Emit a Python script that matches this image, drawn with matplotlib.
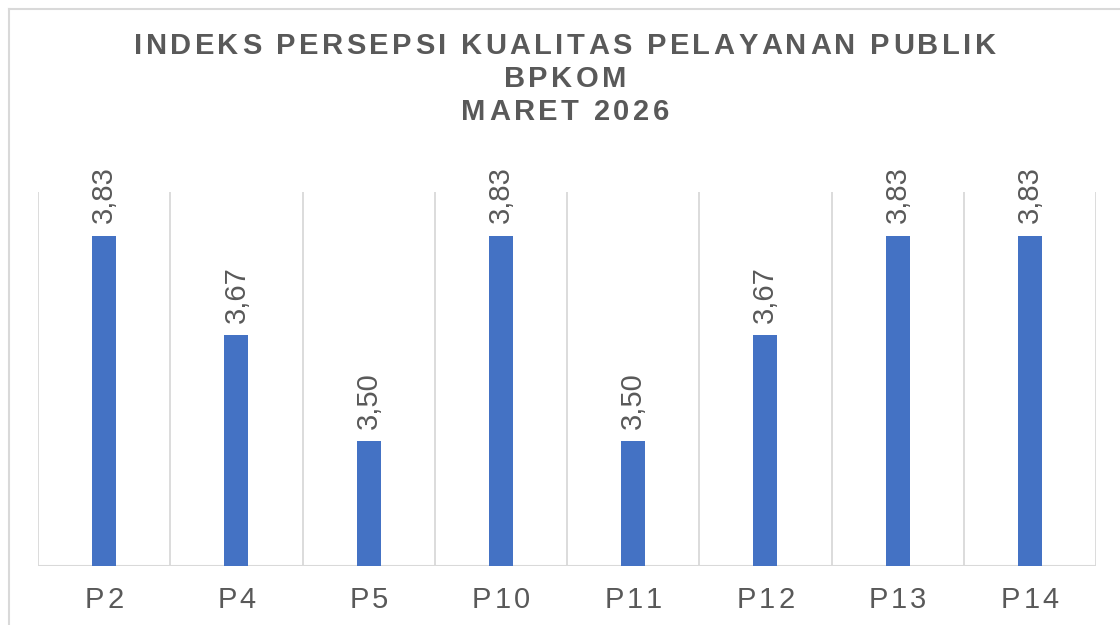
import matplotlib
matplotlib.use("Agg")
import matplotlib.pyplot as plt
from matplotlib.lines import Line2D
from matplotlib.font_manager import FontProperties

# ---------------------------------------------------------------------------
# Data
# ---------------------------------------------------------------------------
categories = ["P2", "P4", "P5", "P10", "P11", "P12", "P13", "P14"]
values = [3.83, 3.67, 3.50, 3.83, 3.50, 3.67, 3.83, 3.83]
title_lines = ["INDEKS PERSEPSI KUALITAS PELAYANAN PUBLIK", "BPKOM", "MARET 2026"]

BAR_COLOUR = "#4472C4"
TEXT_COLOUR = "#595959"
GRID_COLOUR = "#D9D9D9"
FONT = "Liberation Sans"

W, H, DPI = 1120, 625, 100
fig = plt.figure(figsize=(W / DPI, H / DPI), dpi=DPI)
ax = fig.add_axes([38 / W, 1 - 566 / H, (1096 - 38) / W, (566 - 192) / H])

x = list(range(len(categories)))
ax.bar(x, values, width=0.18, color=BAR_COLOUR, zorder=3)
ax.set_xlim(-0.5, len(categories) - 0.5)
ax.set_ylim(3.3, 3.9)

# category separators + baseline
for i in range(len(categories) + 1):
    ax.axvline(i - 0.5, color=GRID_COLOUR, lw=1.3, zorder=1)
ax.axhline(3.3, color=GRID_COLOUR, lw=1.5, zorder=2)
for s in ax.spines.values():
    s.set_visible(False)
ax.set_xticks([])
ax.set_yticks([])

# value labels
for xi, v in zip(x, values):
    ax.annotate(f"{v:.2f}".replace(".", ","), (xi, v), xytext=(0, 9),
                textcoords="offset points", rotation=90, ha="center", va="bottom",
                fontsize=21, color=TEXT_COLOUR, family=FONT)

# chart border (left + top)
fig.add_artist(Line2D([8.5 / W, 8.5 / W], [0, 1 - 8.5 / H], transform=fig.transFigure,
                      color=GRID_COLOUR, lw=1.5))
fig.add_artist(Line2D([8.5 / W, 1], [1 - 8.5 / H, 1 - 8.5 / H], transform=fig.transFigure,
                      color=GRID_COLOUR, lw=1.5))

renderer = fig.canvas.get_renderer()


def spaced_text(xc, yc, s, spacing, size, weight="normal"):
    """Draw s centred at pixel (xc, yc) with extra letter spacing (px)."""
    prop = FontProperties(family=FONT, size=size, weight=weight)
    widths = [renderer.get_text_width_height_descent(c, prop, ismath=False)[0]
              for c in s]
    total = sum(widths) + spacing * (len(s) - 1)
    xpos = xc - total / 2
    for c, w in zip(s, widths):
        fig.text(xpos / W, 1 - yc / H, c, fontproperties=prop, color=TEXT_COLOUR,
                 ha="left", va="center")
        xpos += w + spacing


for line, yc in zip(title_lines, [46, 79, 112]):
    spaced_text(565, yc, line, 3.4, 21, weight="bold")

for xi, lab in zip(x, categories):
    px = ax.transData.transform((xi, 3.3))[0]
    spaced_text(px, 600, lab, 3.0, 21)

fig.savefig("out.png", dpi=DPI)
